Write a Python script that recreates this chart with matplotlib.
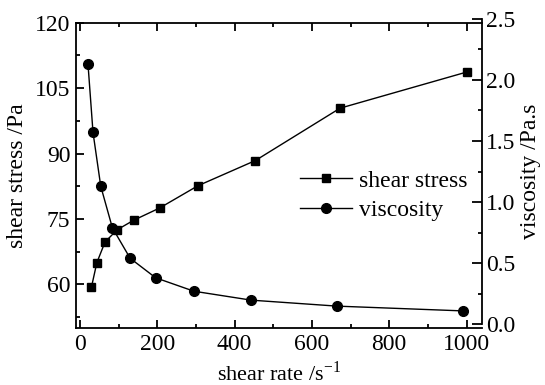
import matplotlib
matplotlib.use("Agg")
import matplotlib.pyplot as plt
from matplotlib.ticker import MultipleLocator

plt.rcParams['font.family'] = ['Liberation Serif', 'DejaVu Serif']
plt.rcParams['mathtext.fontset'] = 'custom'
plt.rcParams['mathtext.rm'] = 'Liberation Serif'
FS = 17

# shear stress series (left axis)
rate_stress = [30, 44, 65, 96, 139, 206, 305, 454, 673, 1001]
stress = [59.4, 65.0, 69.7, 72.5, 74.7, 77.5, 82.6, 88.4, 100.4, 108.7]

# viscosity series (right axis)
rate_visc = [21, 34, 54, 84, 130, 196, 295, 443, 665, 990]
visc = [2.13, 1.57, 1.13, 0.79, 0.54, 0.38, 0.27, 0.197, 0.148, 0.109]

W, H = 545, 385
fig = plt.figure(figsize=(W / 100, H / 100), dpi=100)
l, r, t, b = 76, 482, 22.7, 328
ax1 = fig.add_axes([l / W, 1 - b / H, (r - l) / W, (b - t) / H])
# right axis in the original sits a few pixels higher than the frame
shift = 3.8
ax2 = fig.add_axes([l / W, 1 - (b - shift) / H, (r - l) / W, (b - t) / H], sharex=ax1)
ax2.patch.set_visible(False)

lw = 1.3
h1, = ax1.plot(rate_stress, stress, '-s', color='black', lw=1.0, ms=6, label='shear stress')
h2, = ax2.plot(rate_visc, visc, '-o', color='black', lw=1.0, ms=7, label='viscosity')

ax1.set_xlim(-10, 1040)
ax1.set_ylim(50, 120)
ax2.set_ylim(0, 2.5)

ax1.xaxis.set_major_locator(MultipleLocator(200))
ax1.xaxis.set_minor_locator(MultipleLocator(100))
ax1.set_yticks([60, 75, 90, 105, 120])
ax1.set_yticks([52.5, 67.5, 82.5, 97.5, 112.5], minor=True)
ax2.yaxis.set_major_locator(MultipleLocator(0.5))
ax2.yaxis.set_minor_locator(MultipleLocator(0.25))
ax2.yaxis.set_major_formatter(matplotlib.ticker.FormatStrFormatter('%.1f'))

for s in ['left', 'bottom', 'top']:
    ax1.spines[s].set_linewidth(lw)
ax1.spines['right'].set_visible(False)
for s in ['left', 'bottom', 'top']:
    ax2.spines[s].set_visible(False)
ax2.spines['right'].set_linewidth(lw)

ax1.tick_params(which='both', direction='in', top=True, right=False, labeltop=False,
                width=lw, labelsize=FS)
ax1.tick_params(which='major', length=6)
ax1.tick_params(which='minor', length=3)
ax1.tick_params(axis='x', pad=4)
ax1.tick_params(axis='y', pad=4)
ax2.tick_params(axis='x', which='both', bottom=False, top=False, labelbottom=False)
ax2.tick_params(axis='y', which='both', direction='in', left=False, right=True,
                labelleft=False, labelright=True, width=lw, labelsize=FS, pad=3)
ax2.tick_params(axis='y', which='major', length=7)
ax2.tick_params(axis='y', which='minor', length=3)

ax1.set_xlabel('shear rate /s$^{\\mathregular{-1}}$', fontsize=16, labelpad=5)
ax1.set_ylabel('shear stress /Pa', fontsize=FS, labelpad=5)
ax2.yaxis.set_label_position('right')
ax2.set_ylabel('viscosity /Pa.s', fontsize=FS, labelpad=3)

fig.legend(handles=[h1, h2], loc='upper left', bbox_to_anchor=(300 / W, 1 - 170 / H),
           frameon=False, fontsize=FS, handlelength=2.2, handletextpad=0.3,
           borderpad=0, borderaxespad=0, labelspacing=0.35)

fig.savefig('out.png', dpi=100)
